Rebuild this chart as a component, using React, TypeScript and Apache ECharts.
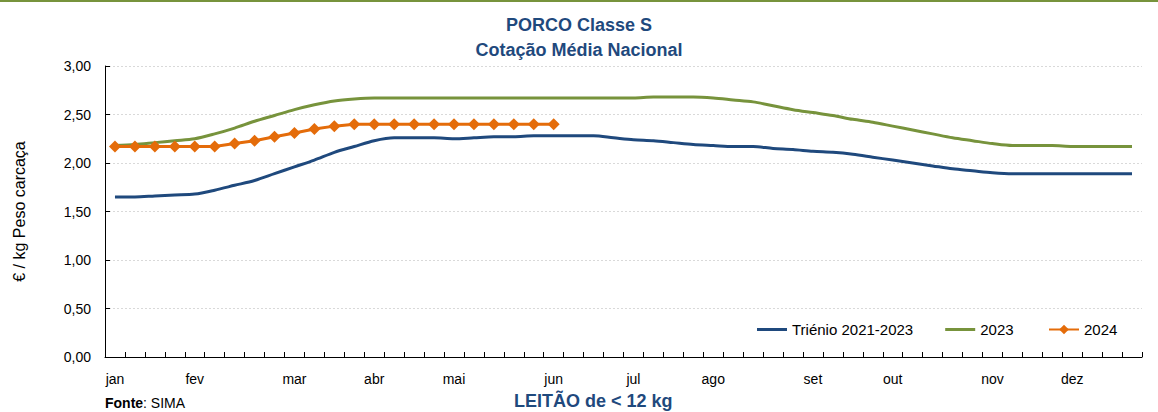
import React, { useEffect, useRef } from "react";
import * as echarts from "echarts";

const monthLabels: string[] = [
  "jan", "", "", "", "fev", "", "", "", "", "mar", "", "", "", "abr", "", "", "", "mai", "", "", "", "", "jun", "", "", "", "jul", "", "", "", "ago", "", "", "", "", "set", "", "", "", "out", "", "", "", "", "nov", "", "", "", "dez", "", "", "",
];

const trienio: number[] = [
  1.65, 1.65, 1.66, 1.67, 1.68, 1.72, 1.77, 1.82, 1.89, 1.96, 2.03, 2.11, 2.17, 2.23, 2.26, 2.26, 2.26, 2.25, 2.26, 2.27, 2.27, 2.28, 2.28, 2.28, 2.28, 2.26,
  2.24, 2.23, 2.21, 2.19, 2.18, 2.17, 2.17, 2.15, 2.14, 2.12, 2.11, 2.09, 2.06, 2.03, 2.0, 1.97, 1.94, 1.92, 1.9, 1.89, 1.89, 1.89, 1.89, 1.89, 1.89, 1.89,
];

const y2023: number[] = [
  2.18, 2.19, 2.21, 2.23, 2.25, 2.3, 2.36, 2.43, 2.49, 2.55, 2.6, 2.64, 2.66, 2.67, 2.67, 2.67, 2.67, 2.67, 2.67, 2.67, 2.67, 2.67, 2.67, 2.67, 2.67, 2.67,
  2.67, 2.68, 2.68, 2.68, 2.67, 2.65, 2.63, 2.59, 2.55, 2.52, 2.49, 2.45, 2.42, 2.38, 2.34, 2.3, 2.26, 2.23, 2.2, 2.18, 2.18, 2.18, 2.17, 2.17, 2.17, 2.17,
];

const y2024: number[] = [
  2.17, 2.17, 2.17, 2.17, 2.17, 2.17, 2.2, 2.23, 2.27, 2.31, 2.35, 2.38, 2.4, 2.4, 2.4, 2.4, 2.4, 2.4, 2.4, 2.4, 2.4, 2.4, 2.4,
];

const seriesNames = ["Triénio 2021-2023", "2023", "2024"];
const colors = ["#1F497D", "#77933C", "#E46C0A"];
const FONT = "Liberation Sans, Arial, sans-serif";

export default function App() {
  const ref = useRef<HTMLDivElement>(null);
  useEffect(() => {
    document.body.style.margin = "0";
    if (!ref.current) return;
    const chart = echarts.init(ref.current, null, { renderer: "svg" });
    const categories = monthLabels.map((_, i) => "S" + (i + 1));
    chart.setOption({
      animation: false,
      backgroundColor: "#ffffff",
      textStyle: { fontFamily: FONT },
      title: {
        text: "PORCO Classe S\nCotação Média Nacional",
        left: "center",
        top: 7,
        textStyle: { fontSize: 18, fontWeight: "bold", color: "#1F497D", lineHeight: 25, fontFamily: FONT },
      },
      legend: [
        {
          left: 752,
          top: 317,
          itemWidth: 30,
          itemHeight: 3,
          itemGap: 32,
          icon: "rect",
          textStyle: { fontSize: 15, color: "#000" },
          data: [seriesNames[0], seriesNames[1]],
        },
        {
          left: 1043,
          top: 317,
          itemWidth: 30,
          itemHeight: 12,
          textStyle: { fontSize: 15, color: "#000" },
          data: [seriesNames[2]],
        },
      ],
      grid: { left: 105, right: 16, top: 66, bottom: 55, containLabel: false },
      xAxis: {
        type: "category",
        data: categories,
        boundaryGap: true,
        axisLine: { lineStyle: { color: "#000", width: 1 } },
        axisTick: { show: true, inside: true, length: 5, interval: 0, lineStyle: { color: "#000" } },
        axisLabel: {
          interval: 0,
          margin: 15,
          fontSize: 14,
          color: "#000",
          formatter: (_v: string, i: number) => monthLabels[i],
        },
        splitLine: { show: false },
      },
      yAxis: {
        type: "value",
        min: 0,
        max: 3,
        interval: 0.5,
        name: "€ / kg Peso carcaça",
        nameLocation: "middle",
        nameGap: 78,
        nameTextStyle: { fontSize: 16, color: "#000" },
        axisLine: { show: true, lineStyle: { color: "#000", width: 1 } },
        axisTick: { show: true, inside: true, length: 5, lineStyle: { color: "#000" } },
        axisLabel: {
          fontSize: 14,
          color: "#000",
          margin: 14,
          formatter: (v: number) => v.toFixed(2).replace(".", ","),
        },
        splitLine: { show: true, lineStyle: { color: "#D9D9D9", type: [2, 2], width: 1 } },
      },
      series: [
        {
          name: seriesNames[0],
          type: "line",
          data: trienio,
          symbol: "none",
          smooth: 0.3,
          lineStyle: { color: colors[0], width: 3 },
          itemStyle: { color: colors[0] },
          z: 2,
        },
        {
          name: seriesNames[1],
          type: "line",
          data: y2023,
          symbol: "none",
          smooth: 0.3,
          lineStyle: { color: colors[1], width: 3 },
          itemStyle: { color: colors[1] },
          z: 3,
        },
        {
          name: seriesNames[2],
          type: "line",
          data: y2024,
          symbol: "diamond",
          symbolSize: 12,
          lineStyle: { color: colors[2], width: 3 },
          itemStyle: { color: colors[2] },
          z: 4,
        },
      ],
      graphic: [
        {
          type: "rect",
          left: 0,
          top: 0,
          shape: { width: 1158, height: 2 },
          style: { fill: "#77933C" },
        },
        {
          type: "text",
          left: 105,
          top: 396,
          style: {
            text: "{b|Fonte}: SIMA",
            rich: { b: { fontWeight: "bold", fontSize: 14, fill: "#000", fontFamily: FONT } },
            fill: "#000",
            font: "14px " + FONT,
          },
        },
        {
          type: "text",
          left: 514,
          top: 392,
          style: {
            text: "LEITÃO de < 12 kg",
            fill: "#1F497D",
            font: "bold 18px " + FONT,
          },
        },
      ],
    });
    return () => chart.dispose();
  }, []);
  return <div ref={ref} style={{ width: 1158, height: 412 }} />;
}
